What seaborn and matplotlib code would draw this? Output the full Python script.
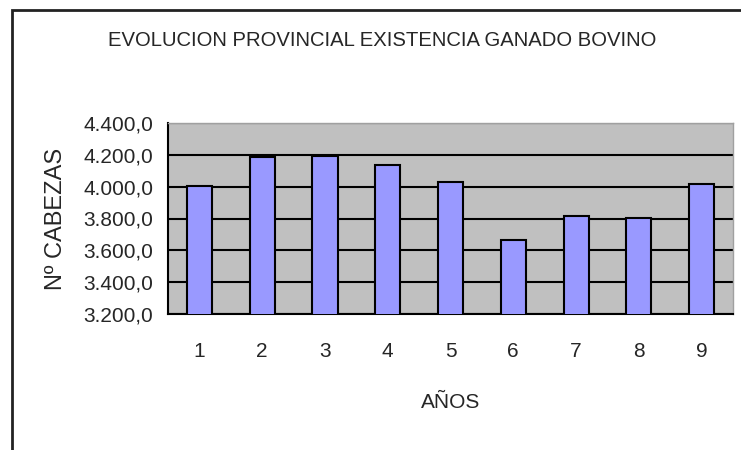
import numpy as np
import pandas as pd
import seaborn as sns
import matplotlib
matplotlib.use("Agg")
import matplotlib.pyplot as plt
from matplotlib.patches import Rectangle
from matplotlib.ticker import FuncFormatter, FixedLocator

years = [1, 2, 3, 4, 5, 6, 7, 8, 9]
heads = [4005, 4185, 4195, 4135, 4032, 3662, 3815, 3805, 4018]
y_ticks = [3200, 3400, 3600, 3800, 4000, 4200, 4400]

sns.set_style("white")
plt.rcParams["font.family"] = ["Liberation Sans", "DejaVu Sans"]

df = pd.DataFrame({"year": years, "heads": heads})

fig = plt.figure(figsize=(7.41, 4.5), dpi=100)
ax = fig.add_axes([168 / 741, (450 - 314) / 450, 565 / 741, 191 / 450])
ax.set_facecolor("#c0c0c0")

sns.barplot(data=df, x="year", y="heads", color="#9999ff", saturation=1,
            edgecolor="black", linewidth=1.5, width=0.4, ax=ax, zorder=3)

ax.set_ylim(3200, 4400)
ax.set_xlim(-0.5, len(years) - 0.5)
ax.yaxis.set_major_locator(FixedLocator(y_ticks))
ax.yaxis.set_major_formatter(FuncFormatter(
    lambda v, p: f"{v:,.1f}".replace(",", "X").replace(".", ",").replace("X", ".")))
ax.grid(axis="y", color="black", linewidth=1.5, zorder=1)
ax.set_axisbelow(True)

# tick marks between categories, labels at centres
ax.xaxis.set_minor_locator(FixedLocator(np.arange(-0.5, len(years), 1.0)))
ax.tick_params(axis="x", which="major", length=0, pad=20, labelsize=15)
ax.tick_params(axis="x", which="minor", direction="out", length=7, width=1.2, color="black")
ax.tick_params(axis="y", direction="inout", length=9, width=1.2, color="black", pad=6, labelsize=15)

for side in ["left", "bottom"]:
    ax.spines[side].set_color("black")
    ax.spines[side].set_linewidth(1.5)
for side in ["top", "right"]:
    ax.spines[side].set_visible(True)
    ax.spines[side].set_color("#a0a0a0")
    ax.spines[side].set_linewidth(1.0)

ax.set_xlabel("AÑOS", fontsize=15, labelpad=23)
ax.set_ylabel("Nº CABEZAS", fontsize=17, labelpad=12)

fig.text(382 / 741, 1 - 41 / 450, "EVOLUCION PROVINCIAL EXISTENCIA GANADO BOVINO",
         ha="center", va="center", fontsize=14.6)

# chart-area frame (cut off at right and bottom)
fig.patches.append(Rectangle((12 / 741, -0.1), 1.2, 1.1 - 10 / 450,
                             transform=fig.transFigure, fill=False,
                             edgecolor="#222222", linewidth=2))

fig.savefig("out.png", dpi=100)
